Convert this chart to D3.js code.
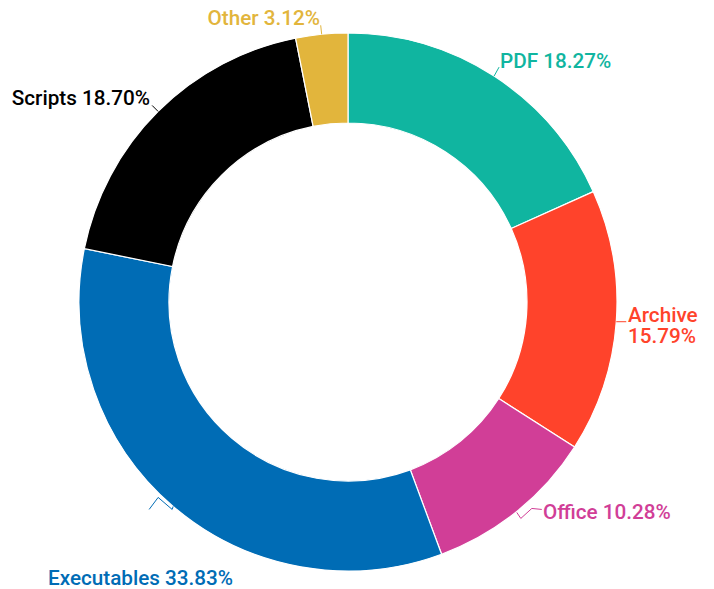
<!DOCTYPE html>
<html><head><meta charset="utf-8">
<script src="https://cdn.jsdelivr.net/npm/d3@7"></script>
<style>html,body{margin:0;padding:0;background:#fff;}svg{display:block;}</style>
</head><body>
<svg id="chart" width="714" height="589"></svg>
<script>
const categories = ["PDF", "Archive", "Office", "Executables", "Scripts", "Other"];
const values = [18.27, 15.79, 10.28, 33.83, 18.70, 3.12];
const colors = ["#10b5a0", "#ff432b", "#d13e97", "#006cb5", "#000000", "#e2b53c"];
const labelColors = ["#10b5a0", "#ff432b", "#d13e97", "#006cb5", "#000000", "#e2b53c"];

// label layout: text anchor position + leader path offsets (relative to outer arc point)
const labelLayout = [
  {x: 500, y: 68, anchor: "start", lines: 1, leader: [[0,0],[5,-9]]},
  {x: 628, y: 322, anchor: "start", lines: 2, leader: [[0,0],[10,0]]},
  {x: 543, y: 519, anchor: "start", lines: 1, leader: [[0,1],[4,7],[15,-3],[25,-2]]},
  {x: 48, y: 585, anchor: "start", lines: 1, leader: [[0,0],[-1,3],[-15,-9],[-24,3]]},
  {x: 150, y: 105, anchor: "end", lines: 1, leader: [[0,0],[-6,-6]]},
  {x: 320, y: 25, anchor: "end", lines: 1, leader: [[0,0],[-1,-9]]}
];

const svg = d3.select("#chart");
const cx = 348, cy = 302, R = 269, r = 179;
const g = svg.append("g").attr("transform", `translate(${cx},${cy})`);

const pie = d3.pie().sort(null).value(d => d.v);
const data = categories.map((c, i) => ({c, v: values[i], i}));
const arcs = pie(data);
const arc = d3.arc().innerRadius(r).outerRadius(R);

g.selectAll("path.slice").data(arcs).join("path")
  .attr("class", "slice")
  .attr("d", arc)
  .attr("fill", d => colors[d.data.i])
  .attr("stroke", "#fff")
  .attr("stroke-width", 1.2);

const fmt = v => v.toFixed(2) + "%";

arcs.forEach(a => {
  const i = a.data.i;
  const L = labelLayout[i];
  const mid = (a.startAngle + a.endAngle) / 2;
  const px = cx + R * Math.sin(mid), py = cy - R * Math.cos(mid);
  const pts = L.leader.map(([dx, dy]) => [px + dx, py + dy]);
  svg.append("path")
    .attr("d", d3.line()(pts))
    .attr("fill", "none")
    .attr("stroke", labelColors[i])
    .attr("stroke-width", 1);
  const t = svg.append("text")
    .attr("x", L.x).attr("y", L.y)
    .attr("text-anchor", L.anchor)
    .attr("fill", labelColors[i])
    .style("font-family", "Roboto, sans-serif")
    .style("font-weight", 500)
    .style("font-size", "20.7px");
  if (L.lines === 2) {
    t.append("tspan").attr("x", L.x).text(a.data.c);
    t.append("tspan").attr("x", L.x).attr("dy", 21).text(fmt(a.data.v));
  } else {
    t.text(a.data.c + " " + fmt(a.data.v));
  }
});
</script>
</body></html>
